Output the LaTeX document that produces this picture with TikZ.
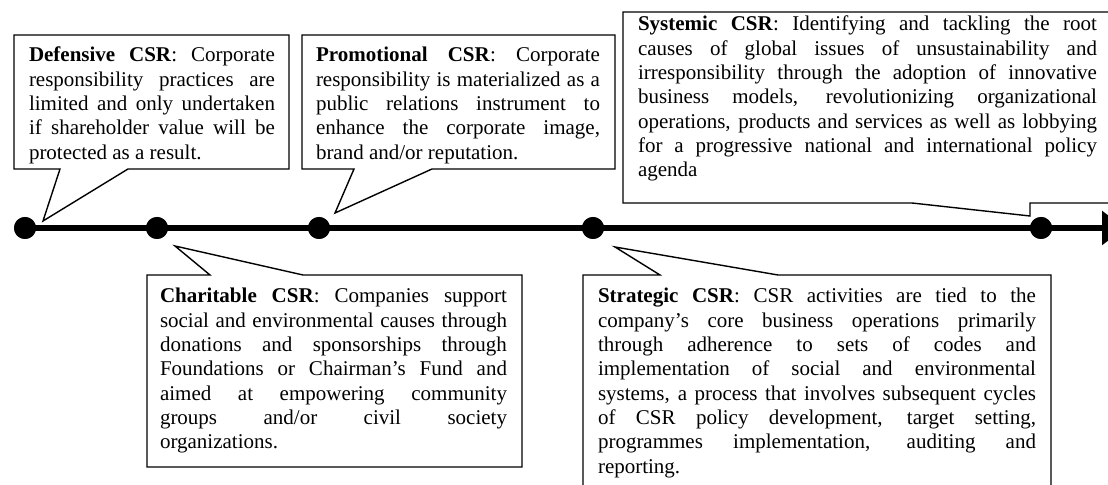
\documentclass[tikz,border=0pt]{standalone}
\usepackage{fontspec}
\setmainfont{Liberation Serif}
\usetikzlibrary{arrows.meta}
\newcommand\JLine[1]{\hbox to \hsize{#1}}
\newcommand\LLine[1]{\hbox{#1}}
\newcommand\CallText[2]{\parbox[t]{#1}{\fontsize{10.5pt}{12.15pt}\selectfont #2}}
\tikzset{
  callout/.style={draw=black, line width=0.7pt, fill=white, line join=miter},
  txt/.style={anchor=base west, inner sep=0pt, outer sep=0pt},
  tdot/.style={circle, fill=black, draw=none, inner sep=0pt, minimum size=11pt},
  timeline/.style={line width=3.2pt, -{Triangle[length=11.5pt,width=16.5pt]}}
}
\begin{document}
\begin{tikzpicture}[x=0.5pt,y=-0.5pt]
\clip (0,0) rectangle (1108,485);
\fill[white] (0,0) rectangle (1108,485);

% callouts
\draw[callout] (14,35) -- (289,35) -- (289,169) -- (128,169) -- (43,221) -- (60,169) -- (14,169) -- cycle;
\draw[callout] (302,35) -- (615,35) -- (615,169) -- (432,169) -- (335,213) -- (354,169) -- (302,169) -- cycle;
\draw[callout] (623,12) -- (1125,12) -- (1125,203) -- (1030,203) -- (1030,216) -- (912,203) -- (623,203) -- cycle;
\draw[callout] (147,275) -- (210,275) -- (175,246) -- (303,275) -- (522,275) -- (522,467) -- (147,467) -- cycle;
\draw[callout] (583,275) -- (660,275) -- (615,247) -- (778,275) -- (1051,275) -- (1051,500) -- (583,500) -- cycle;

% texts
\node[txt] (tdef) at (29,62) {\CallText{123pt}{%
\JLine{\textbf{Defensive CSR}: Corporate}
\JLine{responsibility practices are}
\JLine{limited and only undertaken}
\JLine{if shareholder value will be}
\LLine{protected as a result.}}};

\node[txt] (tpro) at (316,62) {\CallText{142pt}{%
\JLine{\textbf{Promotional CSR}: Corporate}
\JLine{responsibility is materialized as a}
\JLine{public relations instrument to}
\JLine{enhance the corporate image,}
\LLine{brand and/or reputation.}}};

\node[txt] (tsys) at (638,31) {\CallText{229.5pt}{%
\JLine{\textbf{Systemic CSR}: Identifying and tackling the root}
\JLine{causes of global issues of unsustainability and}
\JLine{irresponsibility through the adoption of innovative}
\JLine{business models, revolutionizing organizational}
\JLine{operations, products and services as well as lobbying}
\JLine{for a progressive national and international policy}
\LLine{agenda}}};

\node[txt] (tcha) at (160,303) {\CallText{173.5pt}{%
\JLine{\textbf{Charitable CSR}: Companies support}
\JLine{social and environmental causes through}
\JLine{donations and sponsorships through}
\JLine{Foundations or Chairman’s Fund and}
\JLine{aimed at empowering community}
\JLine{groups and/or civil society}
\LLine{organizations.}}};

\node[txt] (tstr) at (598,303) {\CallText{219pt}{%
\JLine{\textbf{Strategic CSR}: CSR activities are tied to the}
\JLine{company’s core business operations primarily}
\JLine{through adherence to sets of codes and}
\JLine{implementation of social and environmental}
\JLine{systems, a process that involves subsequent cycles}
\JLine{of CSR policy development, target setting,}
\JLine{programmes implementation, auditing and}
\LLine{reporting.}}};

% timeline
\node[tdot] (d1) at (25,228) {};
\node[tdot] (d2) at (157,228) {};
\node[tdot] (d3) at (319,228) {};
\node[tdot] (d4) at (593,228) {};
\node[tdot] (d5) at (1041,228) {};
\coordinate (tend) at (1125,228);
\draw[timeline] (d1.center) -- (tend);
\node[tdot] at (d1) {};
\node[tdot] at (d2) {};
\node[tdot] at (d3) {};
\node[tdot] at (d4) {};
\node[tdot] at (d5) {};
\end{tikzpicture}
\end{document}
